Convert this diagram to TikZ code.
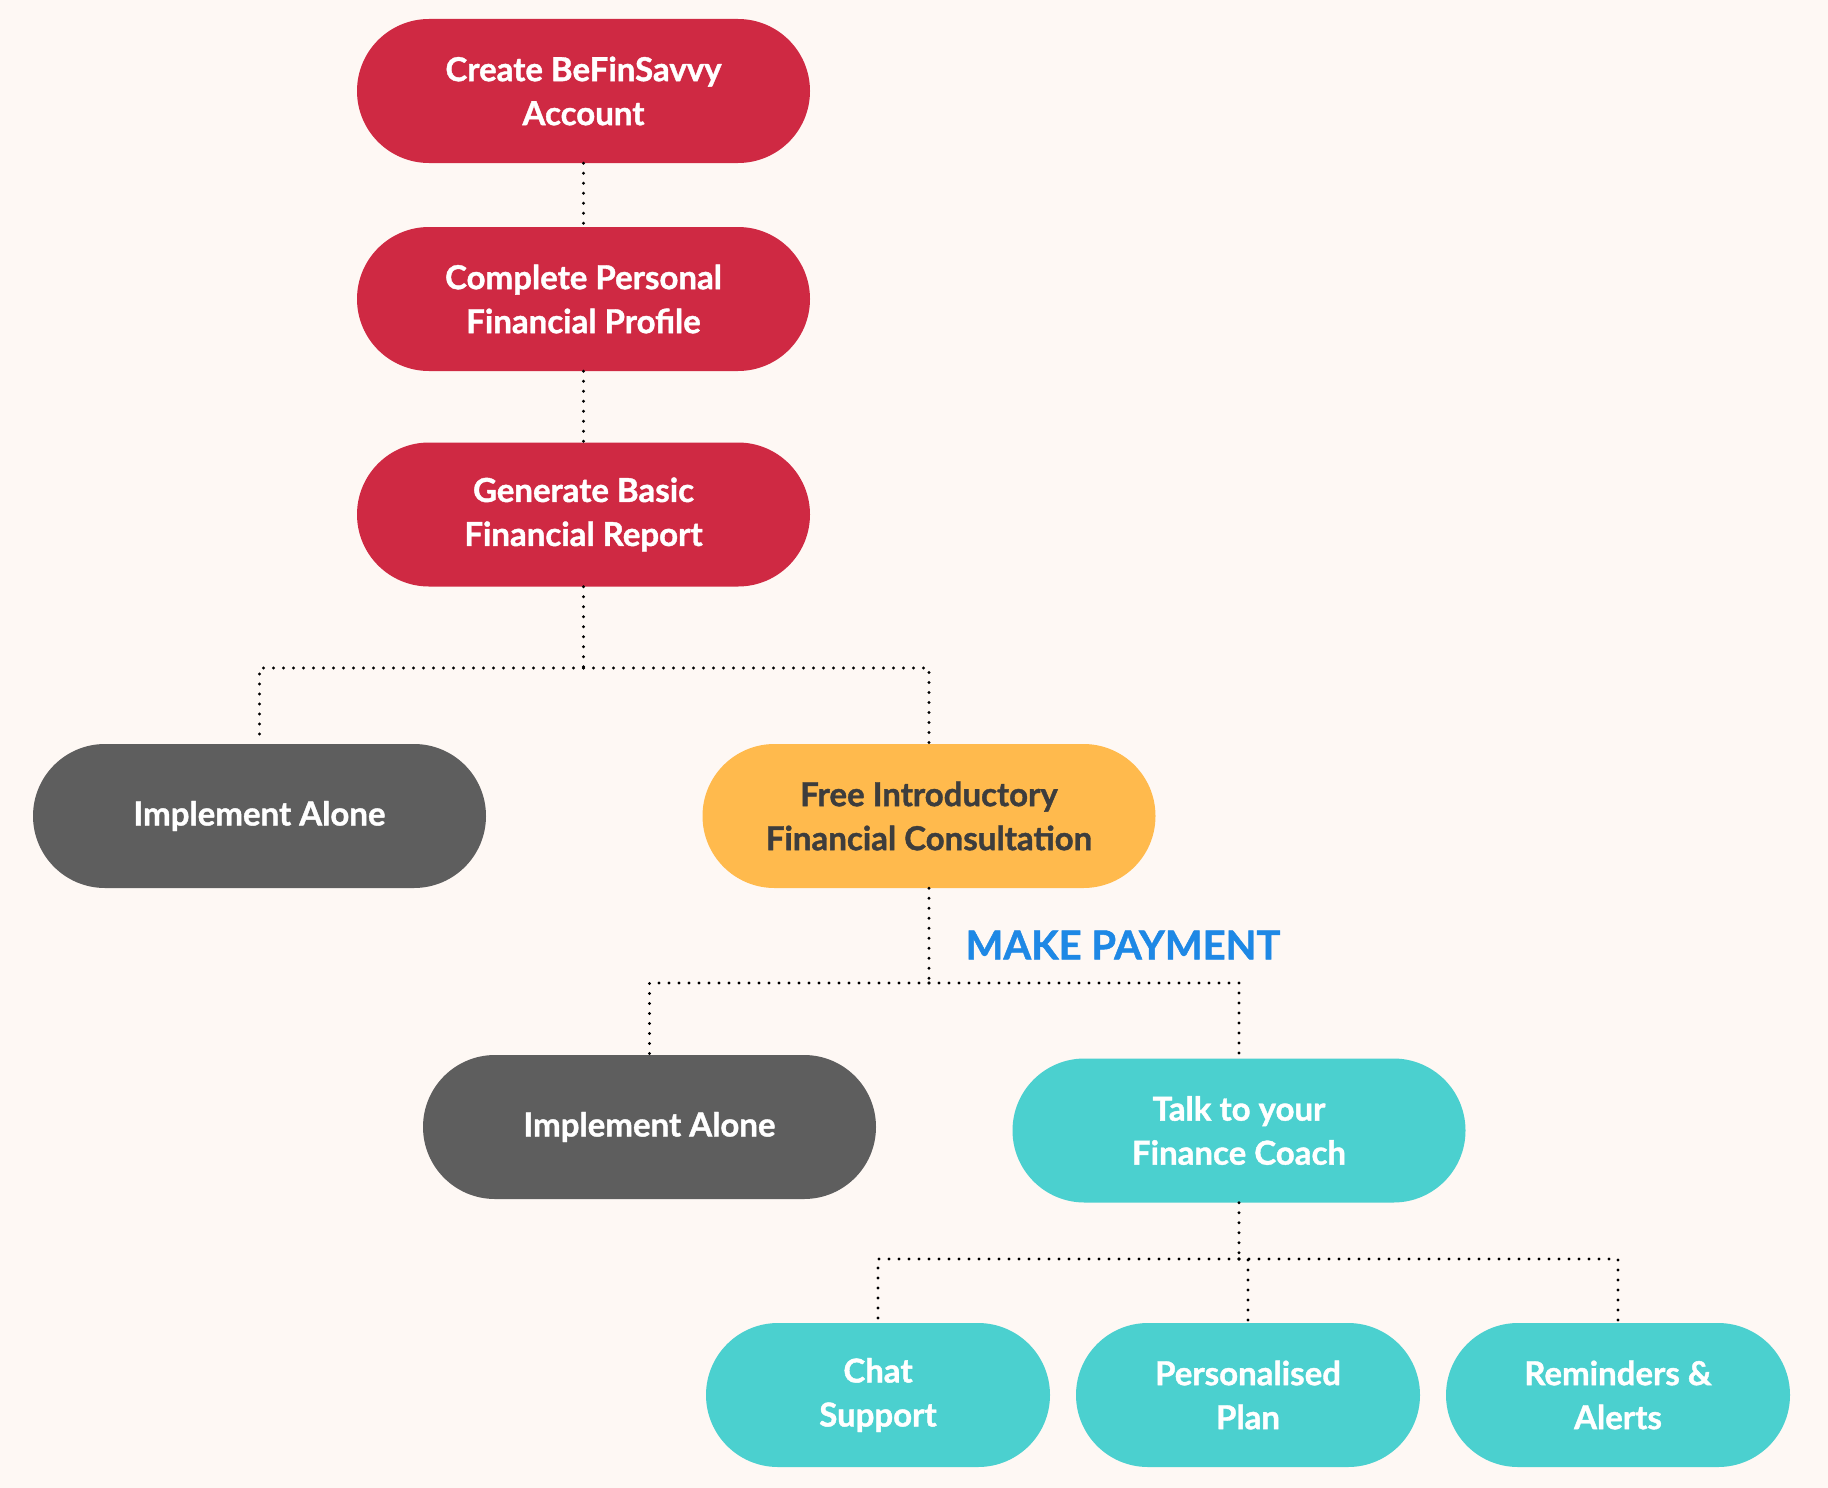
\documentclass[tikz,border=0pt]{standalone}
\usepackage{fontspec}
\setmainfont{Lato}[BoldFeatures={FakeBold=1.2}]
\definecolor{bgc}{HTML}{FEF8F4}
\definecolor{redc}{HTML}{CF2943}
\definecolor{grayc}{HTML}{5E5E5E}
\definecolor{orangec}{HTML}{FFBA4D}
\definecolor{tealc}{HTML}{4BD0CF}
\definecolor{bluec}{HTML}{1E88E5}
\definecolor{darktext}{HTML}{3D3D3D}
\tikzset{
  pill/.style={rectangle, rounded corners=72pt, minimum height=144pt, minimum width=453pt,
    align=center, text=white, font=\fontsize{33}{44}\selectfont\bfseries, inner sep=0pt},
  smallpill/.style={pill, minimum width=344pt},
  redbox/.style={pill, fill=redc},
  graybox/.style={pill, fill=grayc},
  orangebox/.style={pill, fill=orangec, text=darktext},
  tealbox/.style={pill, fill=tealc},
  tealsmall/.style={smallpill, fill=tealc},
  conn/.style={draw=black, line width=3.2pt, line cap=round, dash pattern=on 0pt off 10pt}
}
\begin{document}
\begin{tikzpicture}[x=1pt,y=-1pt]
\fill[bgc] (0,0) rectangle (1828,1488);
\useasboundingbox (0,0) rectangle (1828,1488);
\node[redbox] (n1) at (583.5,91) {Create BeFinSavvy\\Account};
\node[redbox] (n2) at (583.5,299) {Complete Personal\\Financial Profile};
\node[redbox] (n3) at (583.5,514.5) {Generate Basic\\Financial Report};
\node[graybox] (alone1) at (259.5,816) {Implement Alone};
\node[orangebox] (free) at (929,816) {Free Introductory\\Financial Consultation};
\node[graybox] (alone2) at (649.5,1127) {Implement Alone};
\node[tealbox] (coach) at (1239,1130.5) {Talk to your\\Finance Coach};
\node[tealsmall] (chat) at (878,1395) {Chat\\Support};
\node[tealsmall] (plan) at (1248,1395) {Personalised\\Plan};
\node[tealsmall] (remind) at (1618,1395) {Reminders \&\\Alerts};
\node[text=bluec, font=\fontsize{40}{44}\selectfont\bfseries] (pay) at (1123,945) {MAKE PAYMENT};
\coordinate (j1) at (583.5,668);
\coordinate (j2) at (926,983);
\coordinate (j3) at (1246,1259);
\draw[conn] (n1.south) -- (n2.north);
\draw[conn] (n2.south) -- (n3.north);
\draw[conn] (n3.south) -- (j1);
\draw[conn] (j1) -| (alone1.north);
\draw[conn] (j1) -| (free.north);
\draw[conn] (free.south) -- (free.south |- j2);
\draw[conn] (free.south |- j2) -| (alone2.north);
\draw[conn] (free.south |- j2) -| (coach.north);
\draw[conn] (coach.south) -- (coach.south |- j3);
\draw[conn] (coach.south |- j3) -| (chat.north);
\draw[conn] (coach.south |- j3) -| (plan.north);
\draw[conn] (coach.south |- j3) -| (remind.north);
\end{tikzpicture}
\end{document}
